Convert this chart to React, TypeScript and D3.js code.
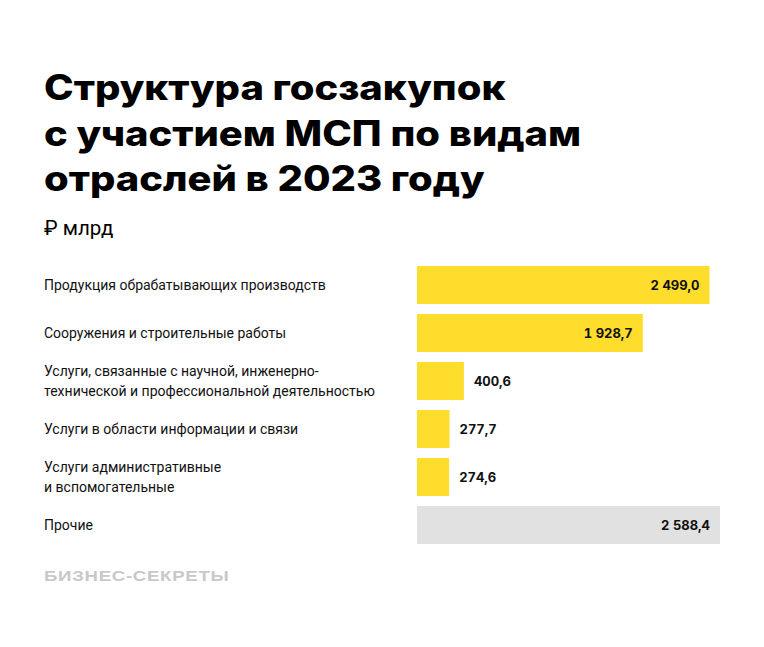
import React, { useEffect, useRef } from 'react';
import * as d3 from 'd3';

// ₽ млрд, 2023
const categories = [
  'Продукция обрабатывающих производств',
  'Сооружения и строительные работы',
  'Услуги, связанные с научной, инженерно-\nтехнической и профессиональной деятельностью',
  'Услуги в области информации и связи',
  'Услуги административные\nи вспомогательные',
  'Прочие',
];
const values = [2499.0, 1928.7, 400.6, 277.7, 274.6, 2588.4];
const titleLines = ['Структура госзакупок', 'с участием МСП по видам', 'отраслей в 2023 году'];

const W = 764;
const H = 647;

const ru = d3.formatLocale({ decimal: ',', thousands: '\u00a0', grouping: [3], currency: ['', ''] });
const fmt = ru.format(',.1f');

const App = () => {
  const svgRef = useRef<SVGSVGElement | null>(null);

  useEffect(() => {
    if (!svgRef.current) return;
    const svg = d3.select(svgRef.current);
    svg.selectAll('*').remove();

    svg.append('rect').attr('width', W).attr('height', H).attr('fill', '#fff');

    // title (heavy, slightly extended)
    svg.append('g')
      .selectAll('text')
      .data(titleLines)
      .enter()
      .append('text')
      .attr('transform', (d, i) => `translate(44,${100 + i * 45.5}) scale(1.14,1)`)
      .attr('font-family', 'Inter, sans-serif')
      .attr('font-weight', 800)
      .attr('font-size', 35)
      .attr('fill', '#000')
      .text(d => d);

    svg.append('text')
      .attr('x', 44)
      .attr('y', 235)
      .attr('font-family', 'Roboto, sans-serif')
      .attr('font-size', 20.5)
      .attr('fill', '#000')
      .text('₽ млрд');

    const x = d3.scaleLinear()
      .domain([0, d3.max(values) as number])
      .range([417, 720]);

    const y = d3.scaleBand<string>()
      .domain(categories)
      .range([266, 544])
      .paddingInner(10 / 48)
      .paddingOuter(0);

    const rows = svg.append('g')
      .selectAll('g')
      .data(categories)
      .enter()
      .append('g');

    rows.append('rect')
      .attr('x', x(0))
      .attr('y', d => y(d) as number)
      .attr('width', (d, i) => x(values[i]) - x(0))
      .attr('height', y.bandwidth())
      .attr('fill', d => (d === 'Прочие' ? '#e1e1e1' : '#ffdd2d'));

    // category labels
    rows.append('text')
      .attr('x', 44)
      .attr('font-family', 'Roboto, sans-serif')
      .attr('font-size', 14)
      .attr('fill', '#111')
      .each(function (d) {
        const lines = d.split('\n');
        const cy = (y(d) as number) + y.bandwidth() / 2;
        const lh = 20;
        const t = d3.select(this);
        lines.forEach((ln, j) => {
          t.append('tspan')
            .attr('x', 44)
            .attr('y', cy + 5 + (j - (lines.length - 1) / 2) * lh)
            .text(ln);
        });
      });

    // value labels: inside the bar when it is long, after it otherwise
    rows.append('text')
      .attr('font-family', 'Inter, sans-serif')
      .attr('font-weight', 700)
      .attr('font-size', 13)
      .style('font-variant-numeric', 'tabular-nums')
      .attr('fill', '#111')
      .attr('y', d => (y(d) as number) + y.bandwidth() / 2 + 4.5)
      .attr('x', (d, i) => (values[i] > 1000 ? x(values[i]) - 10 : x(values[i]) + 10))
      .attr('text-anchor', (d, i) => (values[i] > 1000 ? 'end' : 'start'))
      .text((d, i) => fmt(values[i]));

    // logo
    svg.append('text')
      .attr('transform', 'translate(44,581) scale(1.2,1)')
      .attr('font-family', 'Liberation Sans, Arial, sans-serif')
      .attr('font-weight', 700)
      .attr('font-size', 15.5)
      .attr('letter-spacing', 0.6)
      .attr('fill', '#c8c8c8')
      .text('БИЗНЕС-СЕКРЕТЫ');
  }, []);

  return (
    <div style={{ position: 'absolute', left: 0, top: 0 }}>
      <svg ref={svgRef} width={W} height={H} style={{ display: 'block' }} />
    </div>
  );
};

export default App;
